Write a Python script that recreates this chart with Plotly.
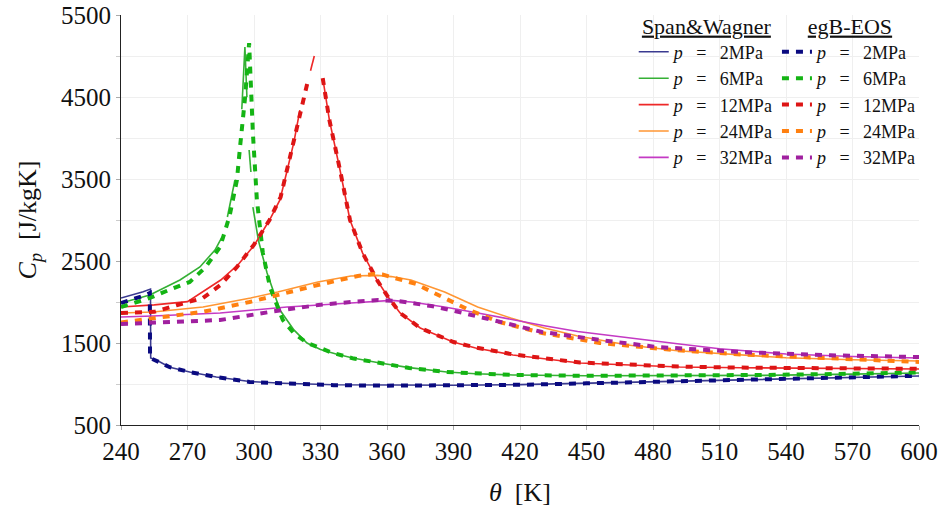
import plotly.graph_objects as go

# Isobaric heat capacity of CO2 versus temperature, two equations of state
FONT = "Liberation Serif"

pressures = ["2MPa", "6MPa", "12MPa", "24MPa", "32MPa"]

# ---- Span & Wagner reference EOS (None marks unresolved parts of the curves)
sw_T_2 = [240, 245, 250, 253.3, 253.4, 257.6, 262, 271, 283, 298, 313, 336, 360, 390, 420, 450, 480, 510, 540, 570, 600]
sw_cp_2 = [2049, 2085, 2125, 2158, 1317, 1268, 1205, 1146, 1085, 1030, 1010, 990, 985, 985, 992, 1010, 1027, 1045, 1063, 1080, 1098]

sw_T_6 = [240, 253, 266.6, 275.6, 282.4, 285.6, None, 288, 291.4, None, 294.5, 295.9, 296.8, None, 297.8, 298.6, None,
          299.5, 302, 305.9, 311.7, 318, 323.9, 330, 337, 344.6, 356.8, 370, 387, 400, 416.8, 450, 492, 530, 570, 600]
sw_cp_6 = [1988, 2085, 2268, 2427, 2634, 2793, None, 3037, 3488, None, 4350, 5110, 4500, None, 3853, 3585, None,
           3158, 2750, 2354, 1902, 1660, 1500, 1420, 1365, 1317, 1256, 1200, 1146, 1125, 1110, 1100, 1098, 1105, 1120, 1134]

sw_T_12 = [240, 255, 270, 285, 293, 300, 307, 311.7, 315, 318, 320.7, None, 325.5, 327.2, None, 331.2, 334, 338.8,
           343.3, 349, 355.5, 360, 365.9, 375, 389.8, 400, 416.8, 447, 470, 492, 520, 560, 600]
sw_cp_12 = [1939, 1965, 2004, 2268, 2460, 2690, 3000, 3244, 3610, 3950, 4341, None, 4820, 5000, None, 4700, 4220, 3610,
            3000, 2597, 2268, 2080, 1866, 1683, 1512, 1440, 1354, 1256, 1228, 1207, 1198, 1190, 1183]

sw_T_24 = [240, 254.4, 277, 298.5, 310.7, 328.8, 343.7, 355.5, 362, 370.8, 386, 400.9, 415.8, 431, 446, 468.6, 491,
           500, 520, 540, 570, 600]
sw_cp_24 = [1866, 1878, 1939, 2049, 2122, 2244, 2317, 2325, 2310, 2268, 2122, 1939, 1805, 1683, 1585, 1476, 1405,
            1390, 1350, 1320, 1295, 1280]

sw_T_32 = [240, 254.4, 284.7, 314.9, 343.7, 356, 362, 371, 386, 401, 416, 431, 446, 468.6, 491, 510, 540, 570, 600]
sw_cp_32 = [1817, 1829, 1866, 1939, 1988, 2010, 2020, 2000, 1939, 1866, 1785, 1710, 1640, 1561, 1490, 1430, 1365,
            1335, 1317]

# ---- egB-EOS
eg_T_2 = [240, 245, 250, 253.0, 253.1, 257, 262, 271, 283, 298, 313, 336, 360, 390, 420, 450, 480, 510, 540, 570, 600]
eg_cp_2 = [1988, 2030, 2075, 2110, 1317, 1270, 1205, 1146, 1085, 1025, 1005, 985, 980, 982, 990, 1008, 1025, 1045,
           1063, 1082, 1100]

eg_T_6 = [240, 253, 262, 271, 278, 284.7, 289, 292.3, 293.7, 296, 297.8, 299.5, 301.3, 304, 307.2, 313, 318, 324,
          335.6, 345, 357, 370, 387, 417, 450, 492, 530, 570, 600]
eg_cp_6 = [1939, 2049, 2150, 2244, 2420, 2671, 3050, 3488, 3890, 4500, 5158, 4061, 3244, 2597, 2183, 1780, 1620, 1500,
           1378, 1310, 1256, 1195, 1146, 1110, 1100, 1100, 1110, 1125, 1140]

eg_T_12 = [240, 255, 265, 277, 285, 292.3, 300, 307, 312, 316, 320.5, 324.4, None, 331, 334, 338.8, 343.3, 349,
           355.5, 360, 365.9, 375, 390, 400, 417, 447, 470, 492, 520, 560, 600]
eg_cp_12 = [1866, 1880, 1960, 2049, 2210, 2427, 2700, 3000, 3280, 3750, 4300, 4707, None, 4730, 4220, 3610, 3000,
            2597, 2268, 2080, 1866, 1683, 1512, 1445, 1360, 1262, 1232, 1212, 1200, 1192, 1185]

eg_T_24 = [240, 255, 277, 298, 313.8, 328.8, 346.8, 353.7, 358, 366, 373, 385, 397, 410.8, 430, 456, 489, 520, 560, 600]
eg_cp_24 = [1750, 1800, 1880, 2000, 2110, 2207, 2317, 2341, 2335, 2280, 2220, 2061, 1902, 1756, 1622, 1500, 1415,
            1360, 1310, 1268]

eg_T_32 = [240, 254.4, 284.7, 307, 329, 343.7, 356, 365, 380, 394.4, 410, 430, 456, 482, 520, 560, 600]
eg_cp_32 = [1732, 1744, 1780, 1878, 1963, 2000, 2024, 2012, 1951, 1866, 1768, 1634, 1537, 1451, 1390, 1350, 1329]

sw_T = [sw_T_2, sw_T_6, sw_T_12, sw_T_24, sw_T_32]
sw_cp = [sw_cp_2, sw_cp_6, sw_cp_12, sw_cp_24, sw_cp_32]
eg_T = [eg_T_2, eg_T_6, eg_T_12, eg_T_24, eg_T_32]
eg_cp = [eg_cp_2, eg_cp_6, eg_cp_12, eg_cp_24, eg_cp_32]

sw_colors = ["#3a3a90", "#35b035", "#ee2828", "#ff9633", "#c43ac4"]
eg_colors = ["#0a0a80", "#14b414", "#dd1515", "#ff8010", "#a0209f"]

x_ticks = list(range(240, 601, 30))
y_ticks = [500, 1500, 2500, 3500, 4500, 5500]
y_minor = [1000, 2000, 3000, 4000, 5000]

SP = "&nbsp;" * 3


def entry(p):
    return f"<i>p</i>{SP}={SP}{p}"


fig = go.Figure()

for p, T, cp, c in zip(pressures, sw_T, sw_cp, sw_colors):
    fig.add_trace(go.Scatter(
        x=T, y=cp, mode="lines", name=entry(p),
        line=dict(color=c, width=1.6), legend="legend", connectgaps=False,
    ))

for p, T, cp, c in zip(pressures, eg_T, eg_cp, eg_colors):
    fig.add_trace(go.Scatter(
        x=T, y=cp, mode="lines", name=entry(p),
        line=dict(color=c, width=4, dash="7px,7px"), legend="legend2", connectgaps=False,
    ))

legend_common = dict(
    yanchor="top", xanchor="left", y=1.0,
    bgcolor="rgba(255,255,255,0)", borderwidth=0,
    font=dict(family=FONT, size=18, color="#111"),
    tracegroupgap=0, itemwidth=30, traceorder="normal",
)

# top margin kept small so the legend sits high; the y axis domain leaves
# the plotting area itself starting 15 px below the top edge
fig.update_layout(
    width=948, height=518,
    margin=dict(l=121, r=29, t=5, b=93),
    paper_bgcolor="white", plot_bgcolor="white",
    font=dict(family=FONT, size=25, color="#111"),
    legend=dict(x=0.6425, title=dict(text="<u>Span&amp;Wagner</u>", side="top center",
                                     font=dict(family=FONT, size=22)), **legend_common),
    legend2=dict(x=0.822, title=dict(text="<u>egB-EOS</u>", side="top center",
                                     font=dict(family=FONT, size=22)), **legend_common),
    xaxis=dict(
        range=[240, 600], tickvals=x_ticks, showline=True, linecolor="#222", linewidth=1,
        ticks="outside", ticklen=4, tickcolor="#aaa", showgrid=True, gridcolor="#efefef",
        zeroline=False, tickfont=dict(family=FONT, size=25), automargin=False,
        title=dict(text="<i>θ</i>  [K]", font=dict(family=FONT, size=26), standoff=18),
    ),
    yaxis=dict(
        range=[500, 5500], tickvals=y_ticks, showline=True, linecolor="#222", linewidth=1,
        ticks="outside", ticklen=4, tickcolor="#aaa", showgrid=True, gridcolor="#efefef",
        zeroline=False, tickfont=dict(family=FONT, size=25), automargin=False,
        domain=[0, 410 / 420],
        minor=dict(tickvals=y_minor, showgrid=True, gridcolor="#efefef", ticks="outside",
                   ticklen=4, tickcolor="#ccc"),
        title=dict(text="<i>C<sub>p</sub></i>  [J/kgK]", font=dict(family=FONT, size=26), standoff=16),
    ),
)

fig.write_html("out.html")
